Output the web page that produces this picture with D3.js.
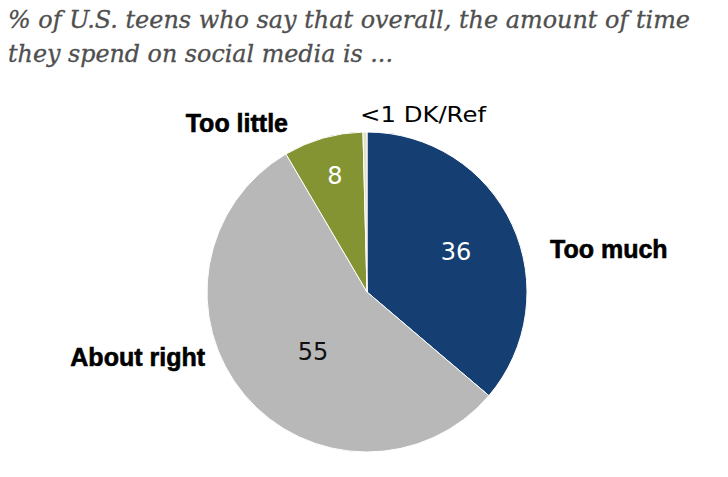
<!DOCTYPE html>
<html>
<head>
<meta charset="utf-8">
<script src="https://cdn.jsdelivr.net/npm/d3@7"></script>
<style>
  html, body { margin: 0; padding: 0; background: #ffffff; }
  svg { display: block; }
</style>
</head>
<body>
<svg id="chart" width="728" height="477"></svg>
<script>
// ---- data ----
const categories = ["Too much", "About right", "Too little", "DK/Ref"];
const values = [36, 55, 8, 0.4];
const valueLabels = ["36", "55", "8", "<1"];
const titleLines = [
  "% of U.S. teens who say that overall, the amount of time",
  "they spend on social media is ..."
];

// ---- layout / style ----
const colors = ["#153f72", "#b8b8b8", "#849433", "#e4e1c6"];
const numberColors = ["#ffffff", "#111111", "#ffffff", "#111111"];
const cx = 367, cy = 292, R = 160;
// radius and angle tweak (radians) for in-slice numbers
const numberRadius = [98, 80, 121];
const numberAngleShift = [0, -0.13, 0.01];
// outer category labels: dx, dy relative to pie centre, anchor
const outerLabelPos = [
  { dx: 183, dy: -34, anchor: "start", bold: true },
  { dx: -162, dy: 74, anchor: "end", bold: true },
  { dx: -79, dy: -160, anchor: "end", bold: true },
  { dx: -7, dy: -170, anchor: "start", bold: false }
];

const svg = d3.select("#chart");

// title
const title = svg.append("g");
titleLines.forEach((t, i) => {
  title.append("text")
    .attr("x", 8)
    .attr("y", 28 + i * 34)
    .attr("font-family", "'DejaVu Serif', 'Liberation Serif', serif")
    .attr("font-style", "italic")
    .attr("font-size", 24)
    .attr("fill", "#4f4f4f")
    .attr("stroke", "#4f4f4f")
    .attr("stroke-width", 0.3)
    .attr("textLength", i === 0 ? 682 : 385)
    .attr("lengthAdjust", "spacingAndGlyphs")
    .text(t);
});

// pie
const pie = d3.pie().sort(null).value(d => d)(values);
const arc = d3.arc().innerRadius(0).outerRadius(R);

const g = svg.append("g").attr("transform", `translate(${cx},${cy})`);
g.selectAll("path.slice")
  .data(pie)
  .join("path")
  .attr("class", "slice")
  .attr("d", arc)
  .attr("fill", (d, i) => colors[i])
  .attr("stroke", "#ffffff")
  .attr("stroke-width", 1);

// numbers inside slices (skip the tiny DK/Ref slice)
g.selectAll("text.num")
  .data(pie.slice(0, 3))
  .join("text")
  .attr("class", "num")
  .attr("x", (d, i) => {
    const a = (d.startAngle + d.endAngle) / 2 + numberAngleShift[i];
    return Math.sin(a) * numberRadius[i];
  })
  .attr("y", (d, i) => {
    const a = (d.startAngle + d.endAngle) / 2 + numberAngleShift[i];
    return -Math.cos(a) * numberRadius[i];
  })
  .attr("dy", "0.36em")
  .attr("text-anchor", "middle")
  .attr("font-family", "'DejaVu Sans', Verdana, sans-serif")
  .attr("font-size", 24)
  .attr("fill", (d, i) => numberColors[i])
  .text((d, i) => valueLabels[i]);

// outer category labels
categories.forEach((c, i) => {
  const p = outerLabelPos[i];
  const t = svg.append("text")
    .attr("x", cx + p.dx)
    .attr("y", cy + p.dy)
    .attr("text-anchor", p.anchor)
    .attr("fill", "#000000");
  if (p.bold) {
    t.attr("font-family", "'Liberation Sans', Arial, sans-serif")
     .attr("font-weight", "bold")
     .attr("font-size", 25)
     .attr("stroke", "#000000")
     .attr("stroke-width", 0.6)
     .text(c);
  } else {
    t.attr("font-family", "'DejaVu Sans', Verdana, sans-serif")
     .attr("font-size", 22)
     .attr("textLength", 126)
     .attr("lengthAdjust", "spacingAndGlyphs")
     .text(valueLabels[i] + " " + c);
  }
});
</script>
</body>
</html>
